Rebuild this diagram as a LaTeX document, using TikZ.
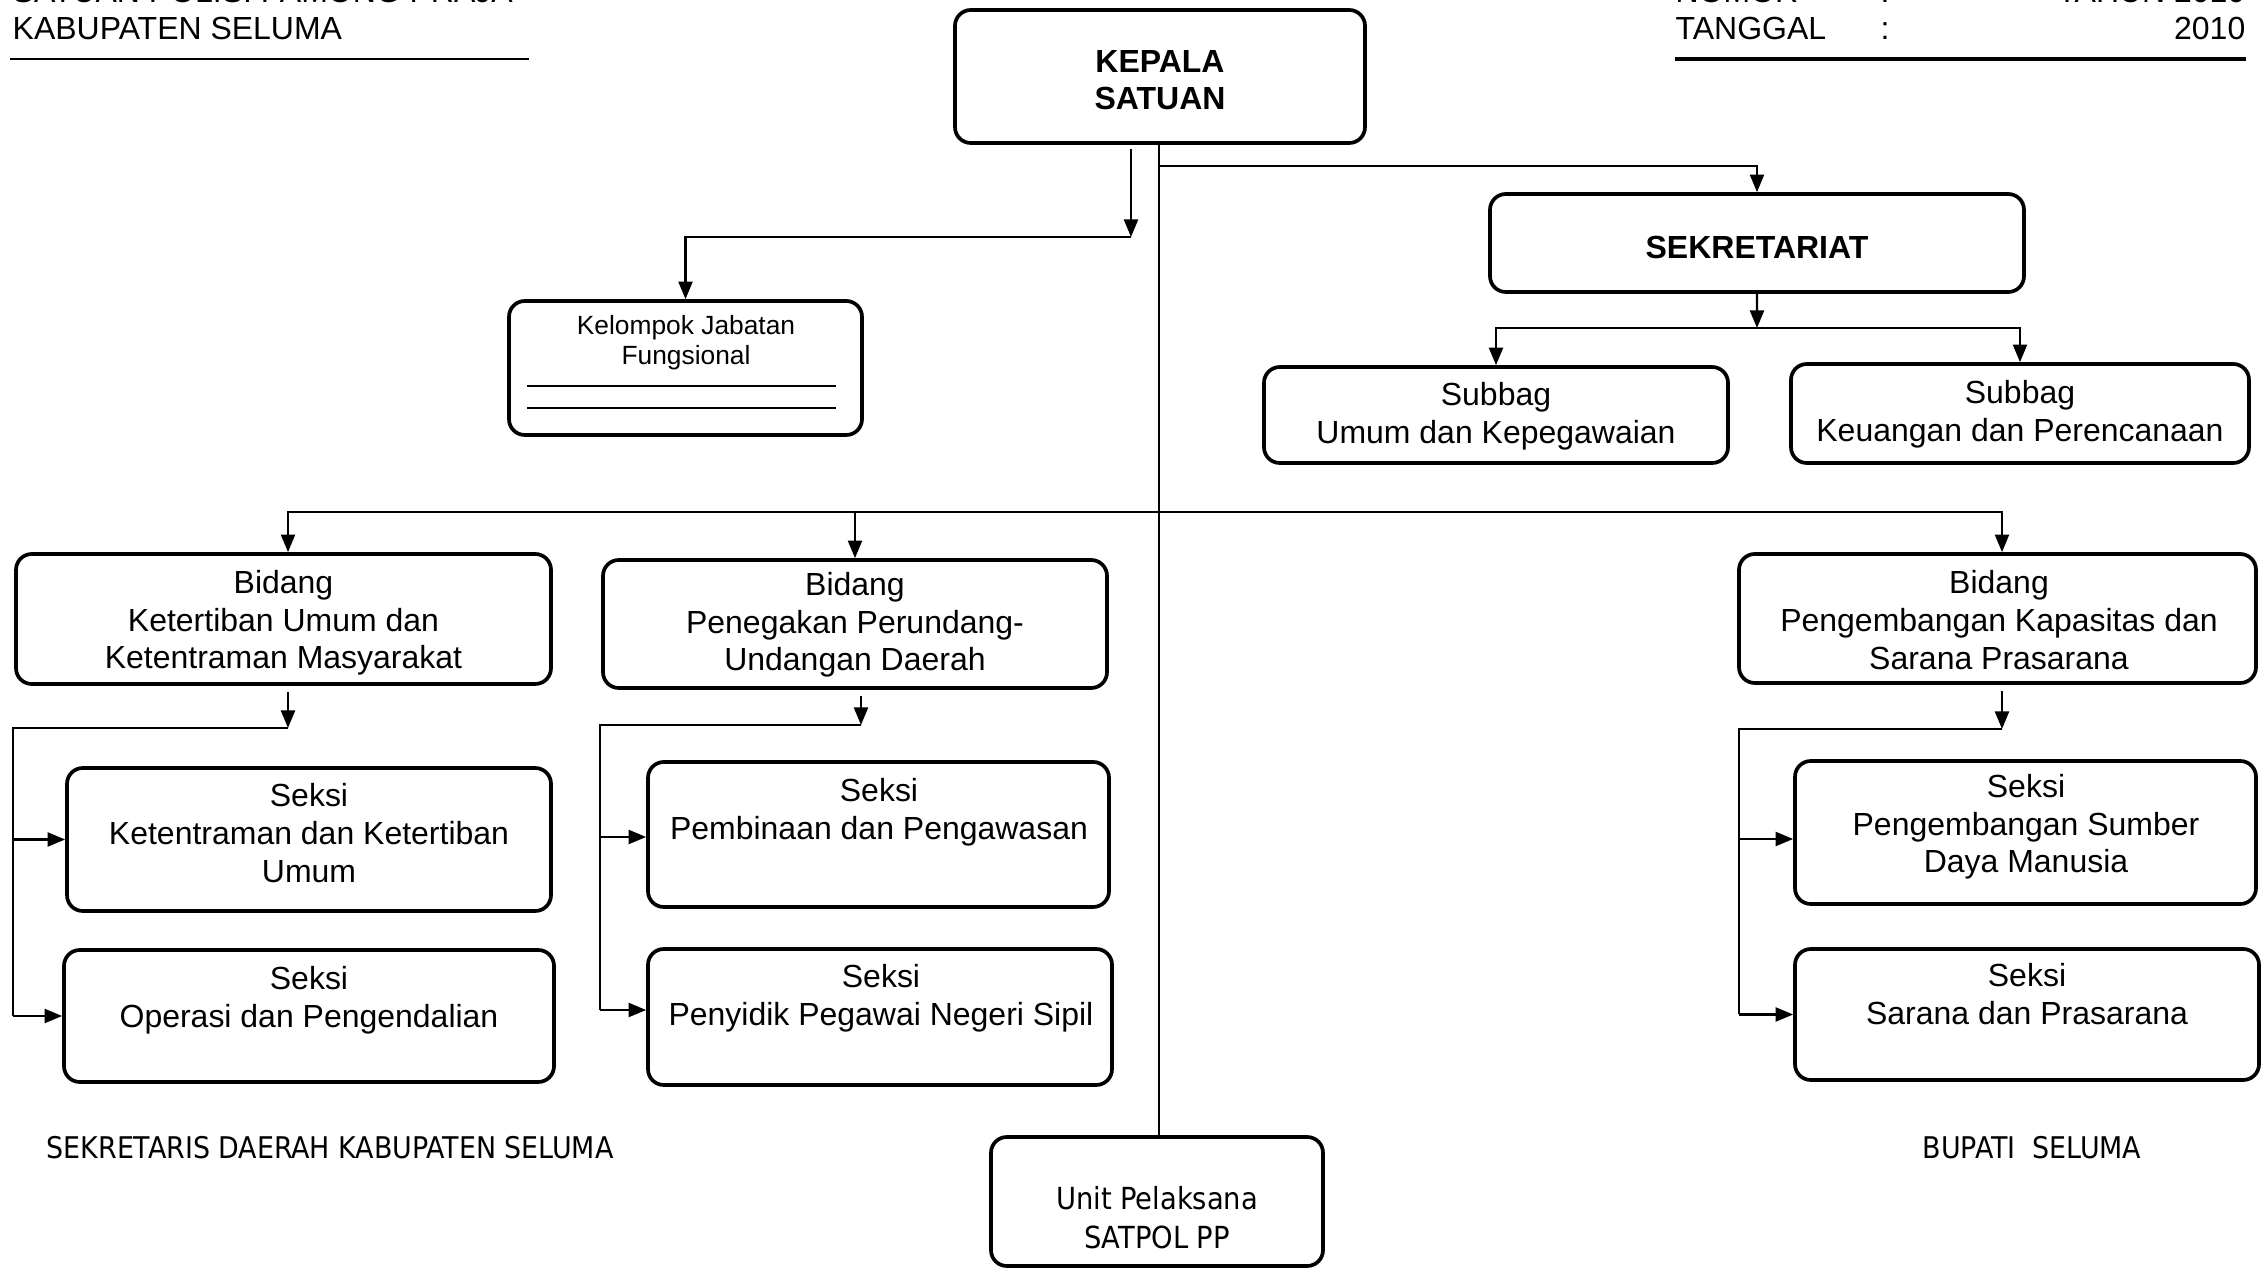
\documentclass[tikz,border=0pt]{standalone}
\usepackage{fontspec}
\setmainfont{Liberation Sans}
\newfontfamily\signfont{DejaVu Sans Condensed}
\usetikzlibrary{arrows.meta,fit}

\begin{document}
\begin{tikzpicture}[x=1cm,y=1cm,
  box/.style={draw, line width=1.05pt, rounded corners=4.5pt, inner sep=0pt},
  txt/.style={align=center, inner sep=0pt, font=\fontsize{9.1}{10.7}\selectfont},
  bold/.style={align=center, inner sep=0pt, font=\fontsize{9.1}{10.7}\selectfont\bfseries},
  small/.style={align=center, inner sep=0pt, font=\fontsize{7.5}{8.6}\selectfont},
  head/.style={inner sep=0pt, font=\fontsize{9.1}{10.7}\selectfont},
  sign/.style={align=center, inner sep=0pt, font=\signfont\fontsize{8.5}{11.1}\selectfont},
  link/.style={line width=0.6pt},
  arr/.style={link, -{Triangle[length=5pt,width=4pt]}},
]
\useasboundingbox (0,0) rectangle (22.68,-12.68);
\clip (0,0) rectangle (22.68,-12.68);

% ---------- page header ----------
\node[head, anchor=base west] (hd-l1) at (0.12,-0.024) {SATUAN POLISI PAMONG PRAJA};
\node[head, anchor=base west] (hd-l2) at (0.12,-0.40) {KABUPATEN SELUMA};
\draw[line width=0.8pt] (0.10,-0.59) -- (5.29,-0.59);

\node[head, anchor=base west] (hd-r1a) at (16.75,-0.024) {NOMOR};
\node[head, anchor=base] (hd-r1b) at (18.85,-0.024) {:};
\node[head, anchor=base east] (hd-r1c) at (22.46,-0.024) {TAHUN 2010};
\node[head, anchor=base west] (hd-r2a) at (16.75,-0.40) {TANGGAL};
\node[head, anchor=base] (hd-r2b) at (18.85,-0.40) {:};
\node[head, anchor=base east] (hd-r2c) at (22.46,-0.40) {2010};
\draw[line width=0.9pt] (16.75,-0.59) -- (22.46,-0.59);

% ---------- boxes ----------
\node[box, fit={(9.55,-0.10)(13.65,-1.43)}] (kepala) {};
\node[bold] (kepala-t) at (11.60,-0.80) {KEPALA\\SATUAN};

\node[box, fit={(5.09,-3.01)(8.62,-4.35)}] (kelompok) {};
\node[small] (kelompok-t) at (6.86,-3.43) {Kelompok Jabatan\\Fungsional};
\draw[link] (5.27,-3.86) -- (8.36,-3.86);
\draw[link] (5.27,-4.08) -- (8.36,-4.08);

\node[box, fit={(14.90,-1.94)(20.24,-2.92)}] (sekre) {};
\node[bold] (sekre-t) at (17.57,-2.47) {SEKRETARIAT};

\node[box, fit={(12.64,-3.67)(17.28,-4.63)}] (sub1) {};
\node[txt] (sub1-t) at (14.96,-4.16) {Subbag\\Umum dan Kepegawaian};

\node[box, fit={(17.91,-3.64)(22.49,-4.63)}] (sub2) {};
\node[txt] (sub2-t) at (20.20,-4.14) {Subbag\\Keuangan dan Perencanaan};

\node[box, fit={(0.16,-5.54)(5.51,-6.84)}] (bid1) {};
\node[txt] (bid1-t) at (2.835,-6.23) {Bidang\\Ketertiban Umum dan\\Ketentraman Masyarakat};

\node[box, fit={(6.03,-5.60)(11.07,-6.88)}] (bid2) {};
\node[txt] (bid2-t) at (8.55,-6.25) {Bidang\\Penegakan Perundang-\\Undangan Daerah};

\node[box, fit={(17.39,-5.54)(22.56,-6.83)}] (bid3) {};
\node[txt] (bid3-t) at (19.99,-6.20) {Bidang\\Pengembangan Kapasitas dan\\Sarana Prasarana};

\node[box, fit={(0.67,-7.68)(5.51,-9.11)}] (sek1a) {};
\node[txt] (sek1a-t) at (3.09,-8.33) {Seksi\\Ketentraman dan Ketertiban\\Umum};

\node[box, fit={(0.64,-9.50)(5.54,-10.82)}] (sek1b) {};
\node[txt] (sek1b-t) at (3.09,-10.00) {Seksi\\Operasi dan Pengendalian};

\node[box, fit={(6.48,-7.62)(11.09,-9.07)}] (sek2a) {};
\node[txt] (sek2a-t) at (8.79,-8.12) {Seksi\\Pembinaan dan Pengawasan};

\node[box, fit={(6.48,-9.49)(11.12,-10.85)}] (sek2b) {};
\node[txt] (sek2b-t) at (8.81,-9.98) {Seksi\\Penyidik Pegawai Negeri Sipil};

\node[box, fit={(17.95,-7.61)(22.56,-9.04)}] (sek3a) {};
\node[txt] (sek3a-t) at (20.26,-8.27) {Seksi\\Pengembangan Sumber\\Daya Manusia};

\node[box, fit={(17.95,-9.49)(22.59,-10.80)}] (sek3b) {};
\node[txt] (sek3b-t) at (20.27,-9.94) {Seksi\\Sarana dan Prasarana};

\node[box, fit={(9.91,-11.37)(13.23,-12.66)}] (unit) {};
\node[sign, font=\signfont\fontsize{8.65}{11.1}\selectfont] (unit-t) at (11.57,-12.18) {Unit Pelaksana\\SATPOL PP};

% ---------- signature lines ----------
\node[sign, anchor=west] (sekda) at (0.46,-11.48) {SEKRETARIS DAERAH KABUPATEN SELUMA};
\node[sign, anchor=west] (bupati) at (19.22,-11.48) {BUPATI\ \ SELUMA};

% ---------- connectors ----------
\coordinate (spine) at (11.59,0);
\draw[link] (spine |- kepala.south) -- (spine |- unit.north);

\coordinate (jsek) at (11.59,-1.66);
\draw[arr] (jsek) -| (sekre.north);

\coordinate (kdrop) at (11.31,-1.49);
\coordinate (kbar) at (11.31,-2.37);
\draw[arr] (kdrop) -- (kbar);
\draw[arr] (kbar) -| (kelompok.north);

\coordinate (sbar) at (17.57,-3.28);
\draw[arr] (sekre.south) -- (sbar);
\draw[arr] (sbar) -| (sub1.north);
\draw[arr] (sbar) -| (sub2.north);

\coordinate (bbar) at (11.59,-5.12);
\coordinate (b1in) at (2.88,0);
\coordinate (b3in) at (20.02,0);
\draw[arr] (bbar) -| (b1in |- bid1.north);
\draw[arr] (bbar) -| (bid2.north);
\draw[arr] (bbar) -| (b3in |- bid3.north);

% Bidang Ketertiban Umum
\coordinate (b1bar) at (2.88,-7.28);
\coordinate (b1rail) at (0.13,-7.28);
\draw[arr] ([yshift=-0.06cm]b1bar |- bid1.south) -- (b1bar);
\draw[link] (b1bar) -- (b1rail) -- (b1rail |- sek1b.west);
\draw[arr] (b1rail |- sek1a.west) -- (sek1a.west);
\draw[arr] (b1rail |- sek1b.west) -- (sek1b.west);

% Bidang Penegakan Perundang-undangan
\coordinate (b2bar) at (8.61,-7.25);
\coordinate (b2rail) at (6.00,-7.25);
\draw[arr] ([yshift=-0.06cm]b2bar |- bid2.south) -- (b2bar);
\draw[link] (b2bar) -- (b2rail) -- ([yshift=0.07cm]b2rail |- sek2b.west);
\draw[arr] ([yshift=-0.025cm]b2rail |- sek2a.west) -- ([yshift=-0.025cm]sek2a.west);
\draw[arr] ([yshift=0.07cm]b2rail |- sek2b.west) -- ([yshift=0.07cm]sek2b.west);

% Bidang Pengembangan Kapasitas
\coordinate (b3bar) at (20.02,-7.29);
\coordinate (b3rail) at (17.39,-7.29);
\draw[arr] ([yshift=-0.06cm]b3bar |- bid3.south) -- (b3bar);
\draw[link] (b3bar) -- (b3rail) -- (b3rail |- sek3b.west);
\draw[arr] ([yshift=-0.065cm]b3rail |- sek3a.west) -- ([yshift=-0.065cm]sek3a.west);
\draw[arr] (b3rail |- sek3b.west) -- (sek3b.west);
\end{tikzpicture}
\end{document}
